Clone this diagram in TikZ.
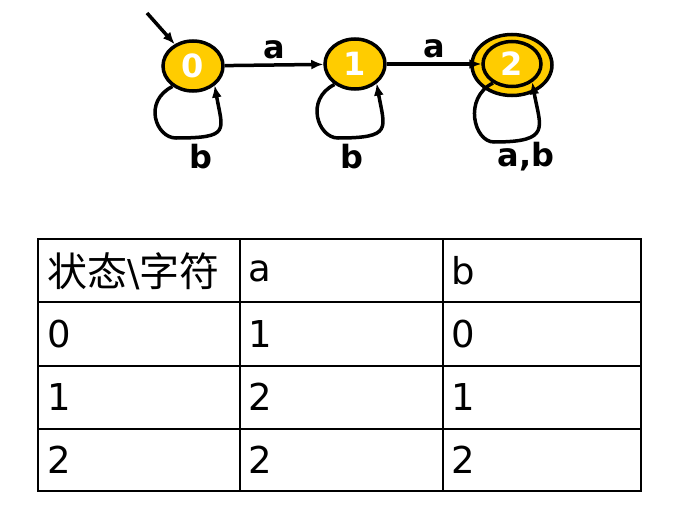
\documentclass[tikz,border=0pt]{standalone}
\usepackage{fontspec}
\setmainfont{DejaVu Sans}
\newfontfamily\cjk{Noto Sans CJK SC}
\usetikzlibrary{shapes.geometric, arrows.meta, positioning}
\definecolor{stateyellow}{RGB}{255, 204, 0}

\begin{document}
\begin{tikzpicture}[x=1pt, y=-1pt,
    state/.style={ellipse, draw, line width=3.5pt, fill=stateyellow, minimum width=60pt, minimum height=50pt, inner sep=0pt, text=white, font=\fontsize{32}{34}\selectfont\bfseries},
    ring/.style={ellipse, draw, line width=3.5pt, fill=stateyellow, minimum width=80pt, minimum height=61pt},
    trans/.style={line width=3.5pt, -{Latex[length=12pt, width=10pt]}},
    lab/.style={font=\fontsize{32}{34}\selectfont\bfseries},
    cell/.style={anchor=west, font=\fontsize{37}{40}\selectfont}]
  \useasboundingbox (0,0) rectangle (683,506);

  % States
  \node[state] (n0) at (193,66) {0};
  \node[state] (n1) at (355,64) {1};
  \node[ring] (n2r) at (512,65) {};
  \node[state, minimum width=58pt, minimum height=45pt] (n2) at (512,64) {2};
  \coordinate (start) at (147,13);

  % Transitions
  \draw[trans] (start) -- (n0.130);
  \draw[trans] (n0) -- node[lab, above=1pt] {a} (n1);
  \draw[trans] (n1) -- node[lab, above=1pt] {a} (n2);
  \draw[trans] (n0.225) .. controls +(-30,15) and +(-20,0) .. (176,138) .. controls +(55,0) and +(8,45) .. (n0.318);
  \draw[trans] (n1.225) .. controls +(-30,15) and +(-20,0) .. (338,138) .. controls +(55,0) and +(8,45) .. (n1.318);
  \draw[trans] (n2.225) .. controls +(-30,15) and +(-20,0) .. (494,142) .. controls +(58,0) and +(8,45) .. (n2.318);
  \node[lab] (lb0) at (201,157) {b};
  \node[lab] (lb1) at (352,157) {b};
  \node[lab] (lb2) at (526,157) {a,b};

  % Transition table
  \foreach \y in {302,366,429}
    \draw[line width=1.2pt] (38,\y) -- (641,\y);
  \foreach \x in {240,443}
    \draw[line width=1.2pt] (\x,239) -- (\x,491);
  \draw[line width=2.5pt] (38,239) rectangle (641,491);
  \node[cell] (h0) at (44,271) {{\cjk\fontsize{40}{42}\selectfont 状态}\textbackslash{\cjk\fontsize{40}{42}\selectfont 字符}};
  \node[cell] (h1) at (245,271) {a};
  \node[cell] (h2) at (448,271) {b};
  \node[cell] (r00) at (44,334) {0};
  \node[cell] (r01) at (245,334) {1};
  \node[cell] (r02) at (448,334) {0};
  \node[cell] (r10) at (44,397) {1};
  \node[cell] (r11) at (245,397) {2};
  \node[cell] (r12) at (448,397) {1};
  \node[cell] (r20) at (44,460) {2};
  \node[cell] (r21) at (245,460) {2};
  \node[cell] (r22) at (448,460) {2};
\end{tikzpicture}
\end{document}
